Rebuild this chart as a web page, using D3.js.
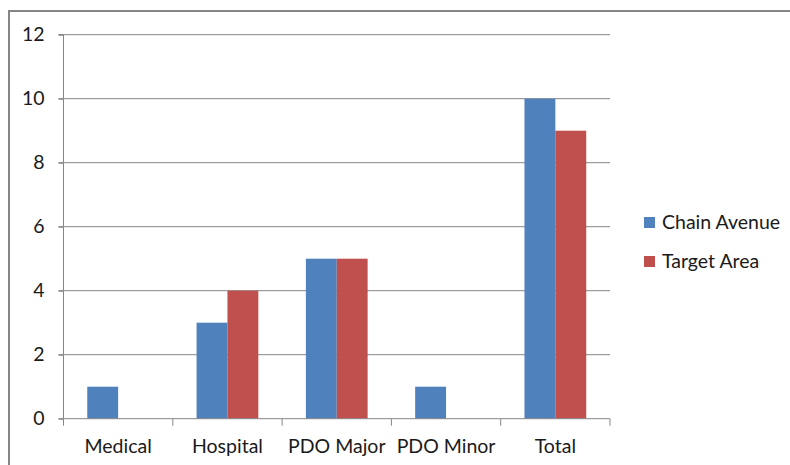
<!DOCTYPE html>
<html>
<head>
<meta charset="utf-8">
<script src="https://cdn.jsdelivr.net/npm/d3@7"></script>
<style>
  html, body { margin: 0; padding: 0; background: #fff; }
  svg { display: block; }
  text { font-family: Lato, "Open Sans", sans-serif; fill: #1a1a1a; }
</style>
</head>
<body>
<svg id="chart" width="790" height="465"></svg>
<script>
const categories = ["Medical", "Hospital", "PDO Major", "PDO Minor", "Total"];
const seriesNames = ["Chain Avenue", "Target Area"];
const chainAvenue = [1, 3, 5, 1, 10];
const targetArea = [0, 4, 5, 0, 9];
const yTicks = [0, 2, 4, 6, 8, 10, 12];
const colors = ["#4F81BD", "#C0504D"];
const FS = "19.5px";

const svg = d3.select("#chart");
const W = 790, H = 465;
const plot = { left: 63.5, right: 610, top: 34.7, bottom: 418.7 };

// outer border
svg.append("rect")
  .attr("x", 9).attr("y", 11)
  .attr("width", W + 10).attr("height", H + 10)
  .attr("fill", "none").attr("stroke", "#868686").attr("stroke-width", 2);

const x0 = d3.scaleBand().domain(categories).range([plot.left, plot.right]).paddingInner(0).paddingOuter(0);
const x1 = d3.scaleBand().domain(seriesNames).range([0, x0.bandwidth()]).paddingInner(0).paddingOuter(0.77);
const y = d3.scaleLinear().domain([0, 12]).range([plot.bottom, plot.top]);

// gridlines
svg.append("g").selectAll("line").data(yTicks.filter(d => d > 0)).join("line")
  .attr("x1", plot.left - 5).attr("x2", plot.right)
  .attr("y1", d => y(d)).attr("y2", d => y(d))
  .attr("stroke", "#868686").attr("stroke-width", 1);

// bars
const data = categories.map((c, i) => ({ cat: c, vals: [chainAvenue[i], targetArea[i]] }));
const g = svg.append("g");
data.forEach(d => {
  d.vals.forEach((v, j) => {
    if (v <= 0) return;
    g.append("rect")
      .attr("x", x0(d.cat) + x1(seriesNames[j]))
      .attr("y", y(v))
      .attr("width", x1.bandwidth())
      .attr("height", y(0) - y(v))
      .attr("fill", colors[j]);
  });
});

// y axis
const yAxis = d3.axisLeft(y).tickValues(yTicks).tickSize(5).tickPadding(14).tickFormat(d3.format("d"));
const ya = svg.append("g").attr("transform", `translate(${plot.left},0)`).call(yAxis);
ya.select(".domain").attr("stroke", "#868686").attr("d", `M-5,${plot.top}H0V${plot.bottom}`);
ya.selectAll(".tick line").attr("stroke", "#868686");
ya.selectAll("text").style("font-size", FS).attr("fill", "#1a1a1a").style("font-family", "Lato, 'Open Sans', sans-serif");

// x axis
const xa = svg.append("g").attr("transform", `translate(0,${plot.bottom})`);
xa.append("line").attr("x1", plot.left - 5).attr("x2", plot.right)
  .attr("stroke", "#868686");
const tickPos = categories.map(c => x0(c)).concat([plot.right]);
xa.selectAll("line.tk").data(tickPos).join("line").attr("class", "tk")
  .attr("x1", d => d).attr("x2", d => d).attr("y1", 0).attr("y2", 7)
  .attr("stroke", "#868686");
xa.selectAll("text").data(categories).join("text")
  .attr("x", d => x0(d) + x0.bandwidth() / 2)
  .attr("y", 34)
  .attr("text-anchor", "middle")
  .style("font-size", FS)
  .text(d => d);

// legend
const lg = svg.append("g");
seriesNames.forEach((s, i) => {
  const yy = 222 + i * 39;
  lg.append("rect").attr("x", 644).attr("y", yy - 5).attr("width", 11).attr("height", 11).attr("fill", colors[i]);
  lg.append("text").attr("x", 662).attr("y", yy + 7).style("font-size", FS).text(s);
});
</script>
</body>
</html>
